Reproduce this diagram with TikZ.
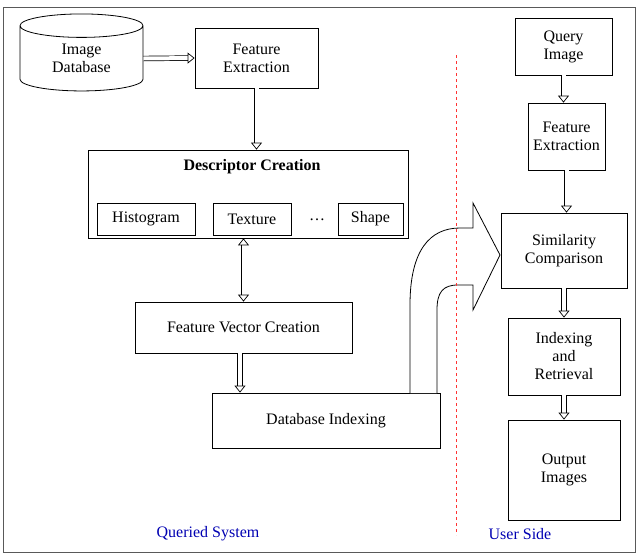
\documentclass[tikz,border=0pt]{standalone}
\usepackage{fontspec}
\setmainfont{Liberation Serif}
\usetikzlibrary{arrows.meta,shapes.geometric}
\begin{document}
\begin{tikzpicture}[x=1pt,y=-1pt,
  box/.style={draw,line width=0.8pt,align=center,font=\fontsize{16}{18}\selectfont,inner sep=0pt},
  harrow/.style={draw,line width=0.7pt,double distance=4pt,-{Triangle[open,length=7pt,width=11pt]}},
  harrow2/.style={draw,line width=0.7pt,double distance=4pt,{Triangle[open,length=7pt,width=11pt]}-{Triangle[open,length=7pt,width=11pt]}},
  lbl/.style={font=\fontsize{16}{18}\selectfont,text=blue!70!black}]
\useasboundingbox (0,0) rectangle (640,558);
\draw[line width=0.8pt,gray!70!black] (3,7) rectangle (635,552);
\node[box,cylinder,shape border rotate=90,aspect=0.4,minimum width=123pt,minimum height=77pt] (db) at (81.5,58.5) {Image\\Database};
\node[box,minimum width=123pt,minimum height=60pt] (fe) at (256.5,58) {Feature\\Extraction};
\node[box,minimum width=320pt,minimum height=88pt] (dc) at (248,194) {};
\node[font=\bfseries\fontsize{16}{18}\selectfont] (dct) at (252,167) {Descriptor Creation};
\node[box,minimum width=98pt,minimum height=32pt] (hi) at (146,219) {Histogram};
\node[box,minimum width=78pt,minimum height=32pt] (tx) at (252,219) {Texture};
\node[font=\fontsize{16}{18}\selectfont] (dots) at (317,220) {\dots};
\node[box,minimum width=65pt,minimum height=32pt] (sh) at (370.5,219) {Shape};
\node[box,minimum width=217pt,minimum height=51pt] (fv) at (243.5,327.5) {Feature Vector Creation};
\node[box,minimum width=228pt,minimum height=55pt] (di) at (326,420.5) {Database Indexing};
\node[box,minimum width=97pt,minimum height=57pt] (qi) at (563.5,46.5) {Query\\Image};
\node[box,minimum width=77pt,minimum height=67pt] (fe2) at (566.5,136.5) {Feature\\Extraction};
\node[box,minimum width=126pt,minimum height=75pt] (sc) at (564,250.5) {Similarity\\Comparison};
\node[box,minimum width=112pt,minimum height=77pt] (ir) at (564,356.5) {Indexing\\and\\Retrieval};
\node[box,minimum width=112pt,minimum height=100pt] (oi) at (564,470) {Output\\Images};
\draw[harrow] (db.east) -- (fe.west);
\draw[harrow] (fe.south) -- (fe.south |- dc.north);
\draw[harrow2] (dc.south -| fv.north) -- (fv.north);
\draw[harrow] (fv.south -| 240,0) -- (di.north -| 240,0);
\draw[harrow] (qi.south) -- (qi.south |- fe2.north);
\draw[harrow] (fe2.south) -- (fe2.south |- sc.north);
\draw[harrow] (sc.south) -- (sc.south |- ir.north);
\draw[harrow] (ir.south) -- (ir.south |- oi.north);
\draw[line width=0.8pt,fill=white] (410,393) -- (410,305) .. controls (410,250) and (430,228) .. (460,228) -- (473,228) -- (473,203) -- (500,255) -- (473,310) -- (473,285) -- (458,285) .. controls (443,285) and (437,292) .. (437,310) -- (437,393);
\draw[red!80,dashed,line width=1pt] (456,55) -- (456,535);
\node[lbl] (qs) at (208,534) {Queried System};
\node[lbl] (us) at (520,534) {User Side};
\end{tikzpicture}
\end{document}
